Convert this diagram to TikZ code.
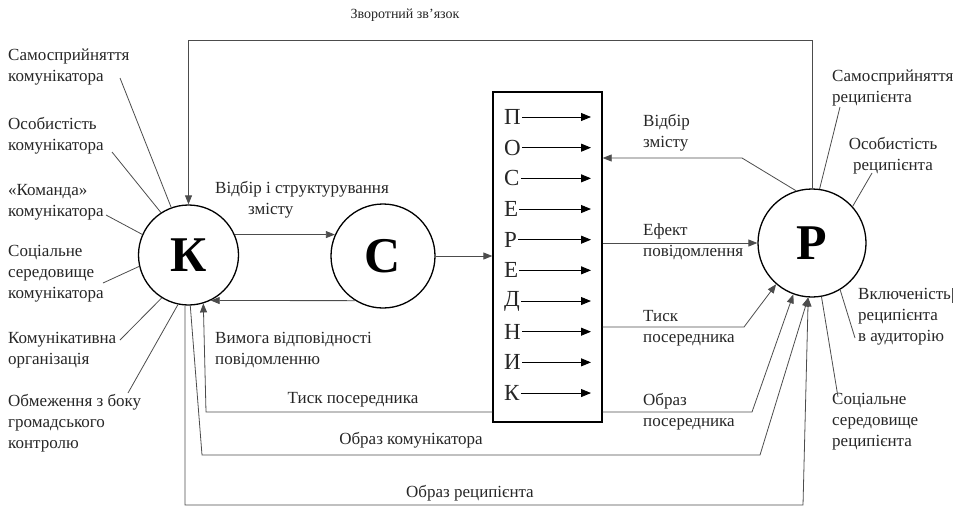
\documentclass[tikz,border=0pt]{standalone}
\usepackage{fontspec}
\setmainfont{Liberation Serif}
\usetikzlibrary{arrows.meta}
\begin{document}
\begin{tikzpicture}[x=1pt,y=-1pt,
  lab/.style={font=\fontsize{17}{21}\selectfont, inner sep=0pt, align=left, anchor=west, text=black!85},
  labc/.style={font=\fontsize{17}{21}\selectfont, inner sep=0pt, align=center, text=black!85},
  bigc/.style={circle, draw=black, line width=1.3pt, font=\fontsize{50}{50}\selectfont\bfseries, inner sep=0pt},
  boxletter/.style={font=\fontsize{23}{23}\selectfont, inner sep=1pt, anchor=west, text=black!85},
  conn/.style={draw=black!70, line width=0.8pt},
  arr/.style={conn, -{Triangle[length=9pt,width=7pt]}},
  inarr/.style={draw=black, line width=0.9pt, -{Triangle[length=10pt,width=8pt]}}
]
\useasboundingbox (0,0) rectangle (957,509);

% main circles
\node[bigc, minimum size=100pt] (K) at (188.5,255) {К};
\node[bigc, minimum size=104pt] (C) at (383,256) {С};
\node[bigc, minimum size=108pt] (P) at (812,243) {Р};

% mediator box
\node[draw=black, line width=1.3pt, minimum width=109pt, minimum height=330pt, inner sep=0pt] (M) at (547.5,257) {};
\foreach \L [count=\i] in {П,О,С,Е,Р,Е,Д,Н,И,К} {
  \node[boxletter] (l\i) at (503,{117+30.67*(\i-1)}) {\L};
  \coordinate (a\i) at (591,{117+30.67*(\i-1)});
  \draw[inarr] (l\i.east) -- (a\i);
}

% feedback loop
\node[font=\fontsize{14}{16}\selectfont, inner sep=0pt, text=black!85] (top) at (405,15) {Зворотний зв'язок};
\coordinate (fbL) at (188.5,40);
\coordinate (fbR) at (812,40);
\draw[arr] (P.north) -- (fbR) -- (fbL) -- (K.north);

% K <-> C
\draw[arr] (K.24) -- (C.156);
\draw[arr] (C.238) -- (K.296);
\draw[arr] (C.east) -- (C.east -| M.west);
\node[lab] (B5) at (215,200) {Відбір і структурування\\\hspace*{33pt}змісту};
\node[lab] (B4) at (215,350) {Вимога відповідності\\повідомленню};

% pressure of mediator to K
\coordinate (t1) at (206,412);
\draw[arr] (M.west |- t1) -- (t1) -- (K.287);
\node[labc] (B1) at (353,400) {Тиск посередника};

% image of communicator
\coordinate (ok1) at (202,455);
\coordinate (ok2) at (760,455);
\draw[arr] (K.272) -- (ok1) -- (ok2) -- (P.266);
\node[labc] (B2) at (411,440) {Образ комунікатора};

% image of recipient
\coordinate (or1) at (185,505);
\coordinate (or2) at (803,505);
\draw[arr] (K.266) -- (or1) -- (or2) -- (P.266);
\node[labc] (B3) at (470,493) {Образ реципієнта};

% box <-> P
\coordinate (v1) at (742,158);
\draw[arr] (P.107) -- (v1) -- (v1 -| M.east);
\node[lab] (T1) at (643,133) {Відбір\\змісту};
\draw[arr] (P.west -| M.east) -- (P.west);
\node[lab] (T2) at (643,242) {Ефект\\повідомлення};
\coordinate (t2) at (744,327);
\draw[arr] (M.east |- t2) -- (t2) -- (P.229);
\node[lab] (T3) at (643,328) {Тиск\\посередника};
\coordinate (t3) at (752,412);
\draw[arr] (M.east |- t3) -- (t3) -- (P.250);
\node[lab] (T4) at (643,412) {Образ\\посередника};

% left factors
\node[lab] (L1) at (8,67) {Самосприйняття\\комунікатора};
\node[lab] (L2) at (8,136) {Особистість\\комунікатора};
\node[lab] (L3) at (8,202) {«Команда»\\комунікатора};
\node[lab] (L4) at (8,274) {Соціальне\\середовище\\комунікатора};
\node[lab] (L5) at (8,350) {Комунікативна\\організація};
\node[lab] (L6) at (8,423) {Обмеження з боку\\громадського\\контролю};
\coordinate (c1) at (120,78);
\coordinate (c2) at (112,152);
\coordinate (c3) at (106,215);
\coordinate (c4) at (103,283);
\coordinate (c5) at (120,340);
\coordinate (c6) at (128,393);
\draw[conn] (c1) -- (K.110);
\draw[conn] (c2) -- (K.123);
\draw[conn] (c3) -- (K.156);
\draw[conn] (c4) -- (K.193);
\draw[conn] (c5) -- (K.238);
\draw[conn] (c6) -- (K.258);

% right factors
\node[lab] (R1) at (832,88) {Самосприйняття\\реципієнта};
\node[labc] (R2) at (893,156) {Особистість\\реципієнта};
\node[lab] (R3) at (858,317) {Включеність\\реципієнта\\в аудиторію};
\node[lab] (R4) at (832,422) {Соціальне\\середовище\\реципієнта};
\coordinate (d1) at (840,107);
\coordinate (d2) at (872,173);
\coordinate (d3) at (855,338);
\coordinate (d4) at (838,397);
\draw[conn] (d1) -- (P.82);
\draw[conn] (d2) -- (P.42);
\draw[conn] (d3) -- (P.301);
\draw[conn] (d4) -- (P.280);
\coordinate (bar1) at (952,288);
\coordinate (bar2) at (952,303);
\draw[black!70, line width=0.6pt] (bar1) -- (bar2);
\end{tikzpicture}
\end{document}
